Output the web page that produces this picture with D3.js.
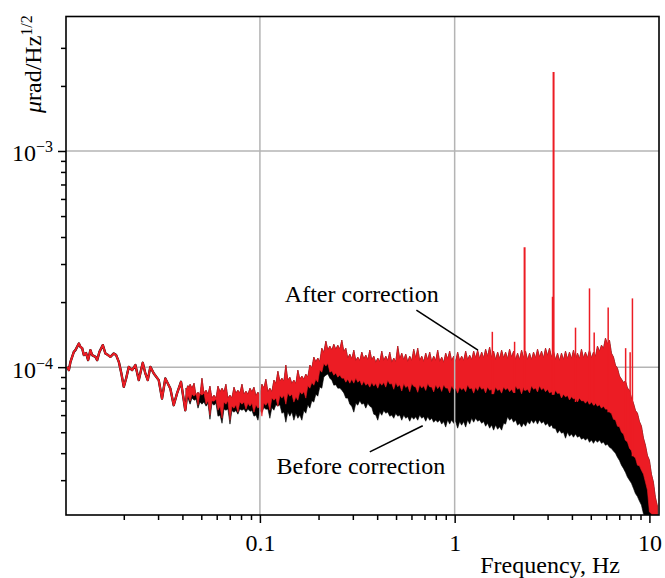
<!DOCTYPE html>
<html>
<head>
<meta charset="utf-8">
<script src="https://cdn.jsdelivr.net/npm/d3@7"></script>
<style>
body { margin: 0; background: #fff; }
</style>
</head>
<body>
<div id="chart"></div>
<script>
// amplitudes below are in units of 1e-4 µrad/Hz^1/2
var AMP = 1e-4;
var RED = "#ec1c24";
var FONT = "'Liberation Serif', 'Times New Roman', serif";

// low-frequency part, both curves coincide
var lowFreq = [0.01024, 0.01045, 0.01065, 0.01108, 0.01129, 0.01176, 0.01198, 0.01223, 0.01247, 0.01281,
    0.01312, 0.01348, 0.01376, 0.01431, 0.01460, 0.01500, 0.01561, 0.01609, 0.01661, 0.01707,
    0.01777, 0.01827, 0.01886, 0.01944, 0.02000, 0.02056, 0.02122, 0.02207, 0.02294, 0.02387,
    0.02503, 0.02581, 0.02655, 0.02739, 0.02852, 0.03023, 0.03143, 0.03268, 0.03467, 0.03609,
    0.03753, 0.03934, 0.04139, 0.04273, 0.04478];
var lowAmp = [1.003, 0.969, 1.058, 1.177, 1.199, 1.287, 1.241, 1.224, 1.137, 1.161,
    1.078, 1.199, 1.137, 1.116, 1.078, 1.177, 1.264, 1.157, 1.137, 1.116,
    1.157, 1.137, 1.058, 0.935, 0.811, 0.886, 1.003, 0.969, 1.022, 0.871,
    1.047, 0.935, 0.871, 1.003, 0.935, 0.871, 0.716, 0.886, 0.797, 0.667,
    0.756, 0.855, 0.632, 0.811, 0.768];

// noisy part: envelope peaks of the two spectra
var bandFreq = [0.0417, 0.0438, 0.0459, 0.0481, 0.0504, 0.0529, 0.0554, 0.0581, 0.0609, 0.0639,
    0.0669, 0.0702, 0.0736, 0.0771, 0.0809, 0.0848, 0.0889, 0.0932, 0.0977, 0.1024,
    0.1073, 0.1125, 0.1180, 0.1237, 0.1297, 0.1359, 0.1425, 0.1494, 0.1566, 0.1642,
    0.1721, 0.1805, 0.1892, 0.1983, 0.2079, 0.2181, 0.2286, 0.2396, 0.2512, 0.2634,
    0.2761, 0.2894, 0.3035, 0.3181, 0.3335, 0.3497, 0.3666, 0.3843, 0.4029, 0.4224,
    0.4428, 0.4642, 0.4867, 0.5102, 0.5349, 0.5608, 0.5879, 0.6163, 0.6462, 0.6774,
    0.7102, 0.7445, 0.7805, 0.8183, 0.8578, 0.8993, 0.9427, 0.9882, 1.036, 1.086,
    1.139, 1.194, 1.252, 1.312, 1.376, 1.442, 1.512, 1.585, 1.662, 1.742,
    1.826, 1.914, 2.007, 2.104, 2.206, 2.312, 2.424, 2.541, 2.664, 2.793,
    2.928, 3.069, 3.218, 3.374, 3.537, 3.708, 3.887, 4.075, 4.273, 4.479,
    4.696, 4.923, 5.161, 5.411, 5.673, 5.947, 6.235, 6.537, 6.853, 7.185,
    7.532, 7.897, 8.279, 8.679, 9.099, 9.539, 10.0, 10.48, 10.99];
var redTop = [0.799, 0.834, 0.843, 0.766, 0.889, 0.782, 0.817, 0.742, 0.817, 0.799,
    0.834, 0.742, 0.808, 0.782, 0.834, 0.774, 0.799, 0.808, 0.766, 0.834,
    0.880, 0.799, 0.871, 0.958, 0.889, 1.022, 0.899, 0.871, 0.969, 0.909,
    0.928, 1.022, 1.113, 1.101, 1.224, 1.320, 1.251, 1.277, 1.264, 1.334,
    1.224, 1.149, 1.199, 1.113, 1.174, 1.137, 1.199, 1.125, 1.101, 1.186,
    1.125, 1.174, 1.101, 1.251, 1.161, 1.149, 1.125, 1.211, 1.224, 1.125,
    1.161, 1.174, 1.125, 1.199, 1.113, 1.161, 1.186, 1.125, 1.174, 1.125,
    1.186, 1.137, 1.186, 1.199, 1.174, 1.211, 1.238, 1.186, 1.174, 1.199,
    1.174, 1.211, 1.186, 1.161, 1.199, 1.186, 1.161, 1.174, 1.211, 1.186,
    1.224, 1.224, 1.186, 1.161, 1.161, 1.186, 1.174, 1.199, 1.161, 1.211,
    1.174, 1.199, 1.174, 1.251, 1.264, 1.362, 1.334, 1.113, 0.989, 0.880,
    0.862, 0.782, 0.681, 0.612, 0.533, 0.435, 0.371, 0.294, 0.228];
var redLow = [0.719, 0.696, 0.734, 0.667, 0.742, 0.674, 0.599, 0.696, 0.632, 0.580,
    0.674, 0.568, 0.646, 0.619, 0.674, 0.639, 0.660, 0.619, 0.646, 0.593,
    0.667, 0.632, 0.703, 0.660, 0.719, 0.674, 0.734, 0.689, 0.703, 0.750,
    0.719, 0.799, 0.825, 0.852, 0.948, 1.011, 0.948, 0.918, 0.899, 0.889,
    0.852, 0.843, 0.843, 0.852, 0.825, 0.825, 0.808, 0.817, 0.799, 0.825,
    0.808, 0.835, 0.790, 0.812, 0.775, 0.805, 0.770, 0.815, 0.765, 0.800,
    0.780, 0.810, 0.768, 0.795, 0.772, 0.800, 0.760, 0.790, 0.758, 0.785,
    0.770, 0.795, 0.758, 0.780, 0.790, 0.760, 0.782, 0.750, 0.780, 0.758,
    0.785, 0.770, 0.760, 0.790, 0.752, 0.780, 0.760, 0.790, 0.768, 0.785,
    0.770, 0.760, 0.745, 0.755, 0.720, 0.728, 0.705, 0.712, 0.690, 0.698,
    0.681, 0.674, 0.667, 0.660, 0.646, 0.639, 0.619, 0.574, 0.533, 0.500,
    0.459, 0.422, 0.387, 0.352, 0.333, 0.294, 0.214, 0.196, 0.196];
var blackLow = [0.703, 0.674, 0.703, 0.646, 0.674, 0.660, 0.574, 0.667, 0.593, 0.550,
    0.632, 0.545, 0.619, 0.606, 0.632, 0.619, 0.625, 0.593, 0.568, 0.619,
    0.639, 0.580, 0.632, 0.660, 0.612, 0.556, 0.593, 0.568, 0.580, 0.568,
    0.612, 0.646, 0.689, 0.734, 0.799, 0.918, 0.889, 0.825, 0.799, 0.782,
    0.719, 0.674, 0.619, 0.667, 0.674, 0.646, 0.660, 0.606, 0.568, 0.599,
    0.612, 0.593, 0.580, 0.593, 0.568, 0.580, 0.562, 0.574, 0.568, 0.580,
    0.562, 0.568, 0.556, 0.556, 0.545, 0.528, 0.545, 0.550, 0.522, 0.539,
    0.528, 0.545, 0.556, 0.562, 0.550, 0.533, 0.522, 0.511, 0.516, 0.511,
    0.545, 0.568, 0.556, 0.539, 0.528, 0.533, 0.545, 0.550, 0.545, 0.550,
    0.539, 0.528, 0.522, 0.495, 0.495, 0.469, 0.479, 0.474, 0.474, 0.464,
    0.459, 0.449, 0.444, 0.449, 0.444, 0.435, 0.426, 0.409, 0.383, 0.352,
    0.326, 0.300, 0.275, 0.252, 0.230, 0.202, 0.196, 0.196, 0.196];

// the valleys between those peaks (noise texture of the edges)
var midFreq = [0.0427, 0.0448, 0.0470, 0.0492, 0.0516, 0.0541, 0.0567, 0.0595, 0.0624, 0.0654,
    0.0685, 0.0718, 0.0753, 0.0789, 0.0828, 0.0868, 0.0910, 0.0954, 0.1000, 0.1048,
    0.1099, 0.1152, 0.1208, 0.1267, 0.1328, 0.1391, 0.1459, 0.1530, 0.1603, 0.1681,
    0.1762, 0.1848, 0.1937, 0.2030, 0.2129, 0.2233, 0.2341, 0.2453, 0.2572, 0.2697,
    0.2827, 0.2963, 0.3108, 0.3257, 0.3415, 0.3581, 0.3754, 0.3935, 0.4125, 0.4325,
    0.4534, 0.4753, 0.4983, 0.5224, 0.5477, 0.5742, 0.6019, 0.6310, 0.6616, 0.6936,
    0.7272, 0.7623, 0.7992, 0.8379, 0.8783, 0.9208, 0.9652, 1.012, 1.061, 1.112,
    1.166, 1.223, 1.282, 1.343, 1.409, 1.476, 1.548, 1.623, 1.702, 1.784,
    1.870, 1.960, 2.055, 2.154, 2.259, 2.367, 2.482, 2.602, 2.728, 2.860,
    2.998, 3.142, 3.295, 3.455, 3.622, 3.797, 3.980, 4.172, 4.375, 4.586,
    4.808, 5.041, 5.284, 5.540, 5.809, 6.089, 6.384, 6.693, 7.017, 7.357,
    7.712, 8.086, 8.477, 8.886, 9.316, 9.767, 10.24, 10.73];
var redTopMid = [0.77, 0.80, 0.74, 0.74, 0.76, 0.75, 0.72, 0.72, 0.77, 0.77,
    0.72, 0.72, 0.76, 0.76, 0.75, 0.75, 0.77, 0.74, 0.74, 0.80,
    0.77, 0.77, 0.84, 0.86, 0.86, 0.87, 0.84, 0.84, 0.88, 0.88,
    0.90, 0.99, 1.06, 1.06, 1.17, 1.20, 1.20, 1.21, 1.21, 1.18,
    1.10, 1.09, 1.07, 1.07, 1.09, 1.08, 1.08, 1.05, 1.06, 1.07,
    1.07, 1.05, 1.06, 1.09, 1.08, 1.06, 1.07, 1.10, 1.07, 1.06,
    1.08, 1.06, 1.07, 1.06, 1.05, 1.09, 1.07, 1.06, 1.07, 1.07,
    1.08, 1.08, 1.10, 1.09, 1.10, 1.12, 1.10, 1.08, 1.09, 1.10,
    1.09, 1.11, 1.08, 1.08, 1.10, 1.08, 1.08, 1.10, 1.11, 1.10,
    1.13, 1.11, 1.08, 1.07, 1.08, 1.09, 1.09, 1.08, 1.09, 1.10,
    1.10, 1.10, 1.12, 1.18, 1.22, 1.28, 1.16, 1.02, 0.91, 0.85,
    0.80, 0.72, 0.63, 0.56, 0.47, 0.39, 0.32, 0.25];
var redLowMid = [0.74, 0.75, 0.76, 0.76, 0.76, 0.70, 0.70, 0.71, 0.66, 0.69,
    0.70, 0.66, 0.67, 0.69, 0.69, 0.68, 0.68, 0.67, 0.66, 0.68,
    0.69, 0.72, 0.72, 0.74, 0.74, 0.76, 0.75, 0.73, 0.77, 0.77,
    0.82, 0.85, 0.88, 0.97, 1.04, 1.04, 0.96, 0.94, 0.92, 0.89,
    0.88, 0.88, 0.89, 0.87, 0.86, 0.84, 0.85, 0.84, 0.85, 0.85,
    0.87, 0.84, 0.85, 0.83, 0.84, 0.82, 0.84, 0.81, 0.83, 0.82,
    0.84, 0.81, 0.83, 0.82, 0.83, 0.80, 0.82, 0.80, 0.81, 0.80,
    0.83, 0.80, 0.81, 0.82, 0.80, 0.81, 0.79, 0.81, 0.79, 0.81,
    0.80, 0.79, 0.82, 0.80, 0.81, 0.79, 0.82, 0.80, 0.82, 0.80,
    0.79, 0.77, 0.78, 0.76, 0.75, 0.74, 0.73, 0.72, 0.72, 0.70,
    0.70, 0.69, 0.68, 0.67, 0.66, 0.64, 0.61, 0.57, 0.53, 0.49,
    0.45, 0.41, 0.38, 0.35, 0.32, 0.27, 0.21, 0.196];
var blackLowMid = [0.72, 0.72, 0.71, 0.69, 0.69, 0.68, 0.68, 0.68, 0.60, 0.64,
    0.64, 0.63, 0.63, 0.64, 0.64, 0.64, 0.63, 0.60, 0.63, 0.65,
    0.64, 0.65, 0.67, 0.67, 0.62, 0.62, 0.62, 0.61, 0.60, 0.63,
    0.67, 0.70, 0.75, 0.81, 0.90, 0.93, 0.87, 0.83, 0.80, 0.76,
    0.72, 0.66, 0.68, 0.70, 0.68, 0.68, 0.65, 0.60, 0.62, 0.63,
    0.62, 0.60, 0.61, 0.60, 0.60, 0.59, 0.59, 0.59, 0.60, 0.59,
    0.59, 0.58, 0.57, 0.57, 0.56, 0.57, 0.57, 0.56, 0.56, 0.56,
    0.57, 0.58, 0.58, 0.57, 0.56, 0.55, 0.54, 0.54, 0.53, 0.55,
    0.59, 0.58, 0.57, 0.55, 0.55, 0.56, 0.57, 0.57, 0.57, 0.56,
    0.55, 0.54, 0.52, 0.51, 0.50, 0.50, 0.49, 0.49, 0.48, 0.47,
    0.47, 0.46, 0.46, 0.46, 0.45, 0.44, 0.42, 0.40, 0.37, 0.34,
    0.31, 0.29, 0.26, 0.24, 0.21, 0.196, 0.196, 0.196];

// narrow lines of the corrected spectrum
var spikeFreq = [1.561, 2.031, 2.286, 3.18, 3.22, 4.174, 4.924, 5.205, 6.141, 7.549, 7.962, 8.181];
var spikeAmp = [1.457, 1.310, 3.583, 2.116, 23.2, 1.523, 2.314, 1.447, 1.890, 1.224, 1.173, 2.080];
// the same line in the uncorrected spectrum
var blackSpikeFreq = [3.20];
var blackSpikeAmp = [1.20];

var xMajor = [0.1, 1, 10];
var xMajorLabels = ["0.1", "1", "10"];
var xMinor = [0.02, 0.03, 0.04, 0.05, 0.06, 0.07, 0.08, 0.09,
    0.2, 0.3, 0.4, 0.5, 0.6, 0.7, 0.8, 0.9, 2, 3, 4, 5, 6, 7, 8, 9];
var yMajor = [1e-3, 1e-4];
var yMajorExp = ["\u22123", "\u22124"];
var yMinor = [3e-5, 4e-5, 5e-5, 6e-5, 7e-5, 8e-5, 9e-5,
    2e-4, 3e-4, 4e-4, 5e-4, 6e-4, 7e-4, 8e-4, 9e-4, 2e-3, 3e-3];

var margin = { top: 16.5, right: 6, bottom: 63, left: 66 },
    width = 665 - margin.left - margin.right,
    height = 578 - margin.top - margin.bottom;

var svg = d3.select("#chart")
    .append("svg")
    .attr("width", 665)
    .attr("height", 578)
    .append("g")
    .attr("transform", "translate(" + margin.left + "," + margin.top + ")");

var x = d3.scaleLog().domain([0.0101, 11.2]).range([0, width]);
var y = d3.scaleLog().domain([2.07e-5, 4.19e-3]).range([height, 0]);

svg.append("defs").append("clipPath").attr("id", "plot")
    .append("rect").attr("width", width).attr("height", height);

// horizontal grid (under the data)
svg.selectAll(".hgrid").data(yMajor).enter().append("line")
    .attr("x1", 0).attr("x2", width)
    .attr("y1", function (d) { return y(d); })
    .attr("y2", function (d) { return y(d); })
    .attr("stroke", "#b4b4b4").attr("stroke-width", 1.5);

var plot = svg.append("g").attr("clip-path", "url(#plot)");

var line = d3.line()
    .x(function (d) { return x(d[0]); })
    .y(function (d) { return y(d[1] * AMP); });

// peaks and valleys of one edge, in frequency order
function edge(peaks, valleys) {
    var pts = [];
    bandFreq.forEach(function (f, i) {
        pts.push([f, peaks[i]]);
        if (i < midFreq.length) pts.push([midFreq[i], valleys[i]]);
    });
    return pts;
}

var lowPts = lowFreq.map(function (f, i) { return [f, lowAmp[i]]; });
var topPts = edge(redTop, redTopMid);
var redLowPts = edge(redLow, redLowMid).reverse();
var blackLowPts = edge(blackLow, blackLowMid).reverse();

// before correction
plot.append("path")
    .attr("d", line(lowPts))
    .attr("fill", "none").attr("stroke", "#000").attr("stroke-width", 2.4)
    .attr("stroke-linejoin", "round");
plot.append("path")
    .attr("d", line(topPts.concat(blackLowPts)) + "Z")
    .attr("fill", "#000").attr("stroke", "#000").attr("stroke-width", 0.6);

// after correction
plot.append("path")
    .attr("d", line(lowPts))
    .attr("fill", "none").attr("stroke", RED).attr("stroke-width", 2)
    .attr("stroke-linejoin", "round");
plot.append("path")
    .attr("d", line(topPts.concat(redLowPts)) + "Z")
    .attr("fill", RED).attr("stroke", RED).attr("stroke-width", 0.6);

plot.selectAll(".bspike").data(blackSpikeFreq).enter().append("line")
    .attr("x1", function (d) { return x(d); })
    .attr("x2", function (d) { return x(d); })
    .attr("y1", function (d) { return y(blackLow[d3.bisectCenter(bandFreq, d)] * AMP); })
    .attr("y2", function (d, i) { return y(blackSpikeAmp[i] * AMP); })
    .attr("stroke", "#000").attr("stroke-width", 1.2);

plot.selectAll(".spike").data(spikeFreq).enter().append("line")
    .attr("x1", function (d) { return x(d); })
    .attr("x2", function (d) { return x(d); })
    .attr("y1", function (d) { return y(redLow[d3.bisectCenter(bandFreq, d)] * AMP); })
    .attr("y2", function (d, i) { return y(spikeAmp[i] * AMP); })
    .attr("stroke", RED).attr("stroke-width", function (d, i) { return spikeAmp[i] > 3 ? 2 : 1.5; });

// vertical grid (drawn over the data)
svg.selectAll(".vgrid").data(xMajor.slice(0, 2)).enter().append("line")
    .attr("x1", function (d) { return x(d); })
    .attr("x2", function (d) { return x(d); })
    .attr("y1", 0).attr("y2", height)
    .attr("stroke", "#b4b4b4").attr("stroke-width", 1.5);

// frame
svg.append("rect")
    .attr("width", width).attr("height", height)
    .attr("fill", "none").attr("stroke", "#000").attr("stroke-width", 1.6);

function styleAxis(g) {
    g.select(".domain").remove();
    g.selectAll("line").attr("stroke", "#000").attr("stroke-width", 1.5);
}

svg.append("g").attr("transform", "translate(0," + height + ")")
    .call(d3.axisBottom(x).tickValues(xMinor).tickSize(5).tickFormat(""))
    .call(styleAxis);
svg.append("g").attr("transform", "translate(0," + height + ")")
    .attr("font-family", FONT).attr("font-size", 24)
    .call(d3.axisBottom(x).tickValues(xMajor).tickSize(8).tickPadding(11)
        .tickFormat(function (d, i) { return xMajorLabels[i]; }))
    .call(styleAxis)
    .call(function (g) { g.selectAll("text").attr("fill", "#000").attr("font-family", FONT).attr("font-size", 24); });

svg.append("g")
    .call(d3.axisLeft(y).tickValues(yMinor).tickSize(5).tickFormat(""))
    .call(styleAxis);
svg.append("g")
    .call(d3.axisLeft(y).tickValues(yMajor).tickSize(8).tickFormat(""))
    .call(styleAxis);

var ylab = svg.selectAll(".ylab").data(yMajor).enter().append("text")
    .attr("x", -13)
    .attr("y", function (d) { return y(d) + 10.5; })
    .attr("text-anchor", "end")
    .attr("font-family", FONT).attr("font-size", 24).attr("fill", "#000");
ylab.append("tspan").text("10");
ylab.append("tspan").attr("dy", -9).attr("font-size", 16)
    .text(function (d, i) { return yMajorExp[i]; });

// axis titles
var yt = svg.append("text")
    .attr("transform", "translate(" + (41 - margin.left) + "," + (113 - margin.top) + ") rotate(-90)")
    .attr("font-family", FONT).attr("font-size", 24).attr("fill", "#000");
yt.append("tspan").attr("font-style", "italic").text("\u03bc");
yt.append("tspan").text("rad/Hz");
yt.append("tspan").attr("dy", -9).attr("font-size", 16).text("1/2");

svg.append("text")
    .attr("x", 620 - margin.left).attr("y", 573 - margin.top)
    .attr("text-anchor", "end")
    .attr("font-family", FONT).attr("font-size", 24).attr("fill", "#000")
    .text("Frequency, Hz");

// annotations
var notes = [
    { text: "After correction", f: 0.1343, v: 2.0e-4, f1: 0.636, v1: 1.836e-4, f2: 1.317, v2: 1.199e-4 },
    { text: "Before correction", f: 0.1218, v: 3.196e-5, f1: 0.3666, v1: 4.054e-5, f2: 0.6853, v2: 5.36e-5 }
];
svg.selectAll(".note").data(notes).enter().append("text")
    .attr("x", function (d) { return x(d.f); })
    .attr("y", function (d) { return y(d.v); })
    .attr("font-family", FONT).attr("font-size", 24).attr("fill", "#000")
    .text(function (d) { return d.text; });
svg.selectAll(".leader").data(notes).enter().append("line")
    .attr("x1", function (d) { return x(d.f1); })
    .attr("y1", function (d) { return y(d.v1); })
    .attr("x2", function (d) { return x(d.f2); })
    .attr("y2", function (d) { return y(d.v2); })
    .attr("stroke", "#000").attr("stroke-width", 1.6);
</script>
</body>
</html>
